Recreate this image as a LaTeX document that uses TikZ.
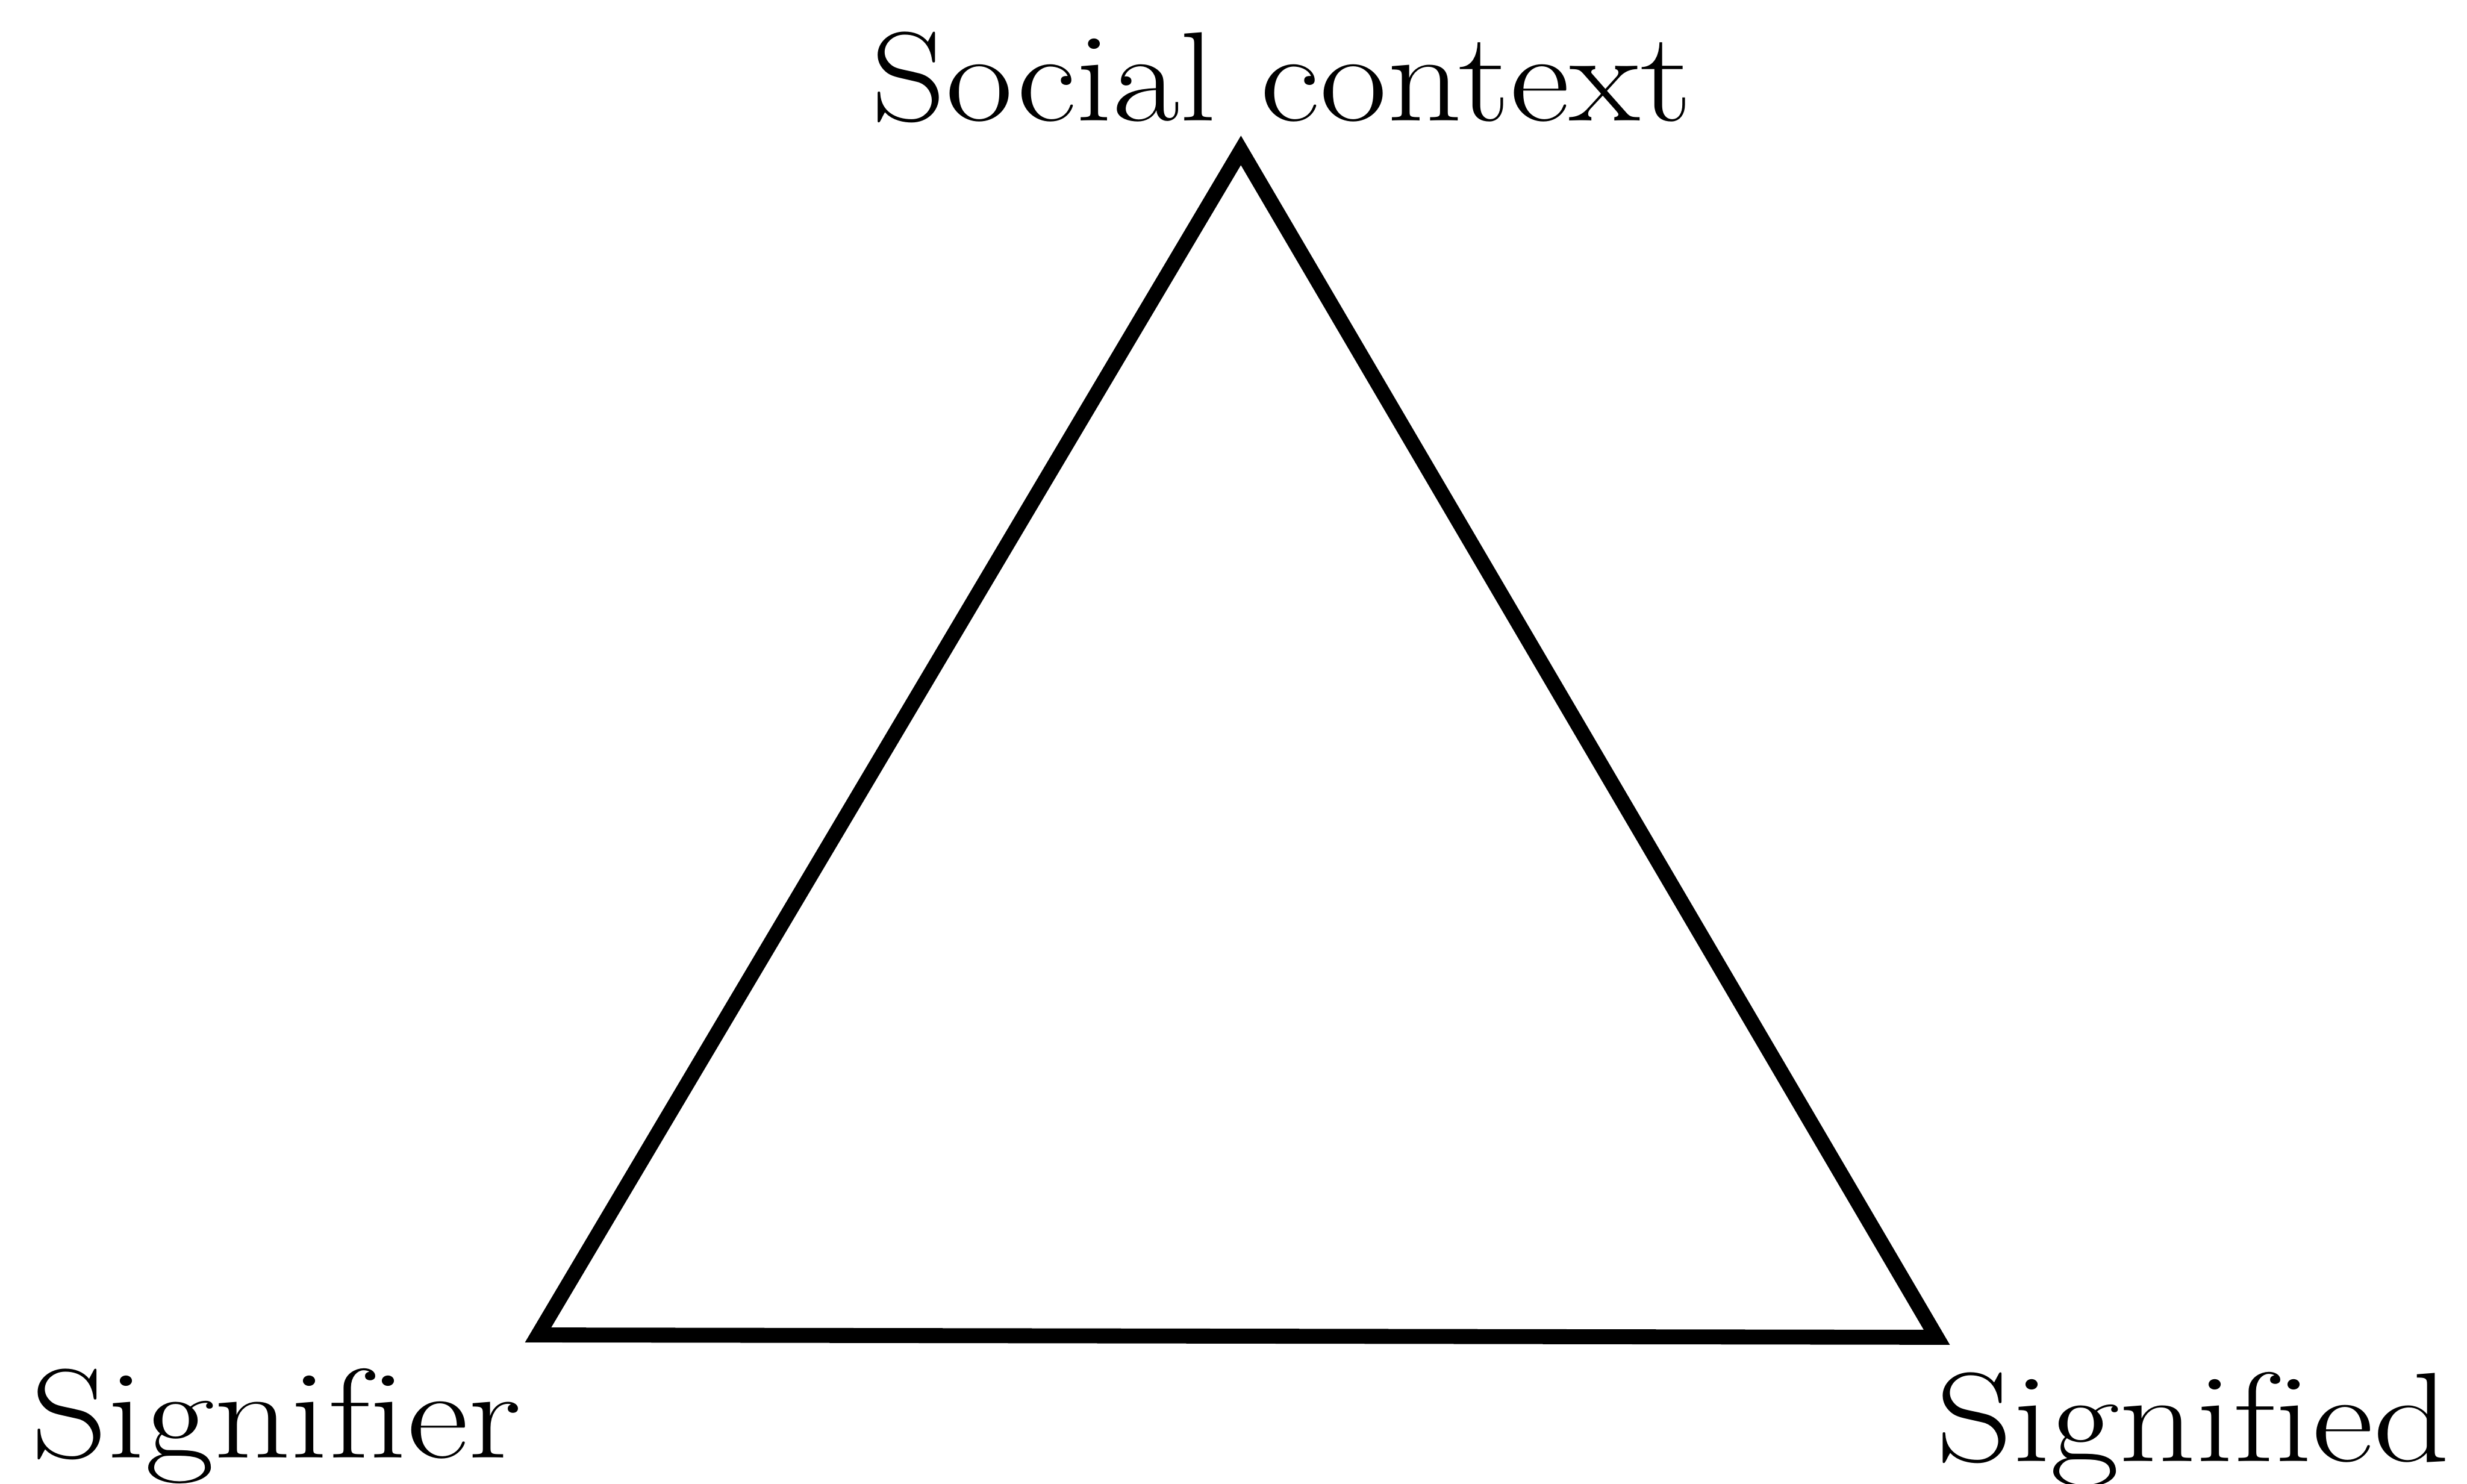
\documentclass[tikz,border=0pt]{standalone}
\usepackage{graphicx}
\usepackage{tikz}
\usetikzlibrary{positioning}

\begin{document}
\begin{tikzpicture}[line join=miter, lbl/.style={inner sep=0pt, font=\fontsize{23}{27}\selectfont}]
  \useasboundingbox (0,0) rectangle (15.68,9.43);
  \coordinate (ctx) at (7.887,8.474);
  \coordinate (sgr) at (3.42,0.945);
  \coordinate (sgd) at (12.31,0.93);
  \node[lbl, anchor=base] (ctxlbl) at (8.145,8.663) {\scalebox{1.15}[1]{Social context}};
  \node[lbl, anchor=base west] (sgrlbl) at (0.19,0.164) {\scalebox{1.18}[1]{Signif\kern0pt i\kern0pt er}};
  \node[lbl, anchor=base east] (sgdlbl) at (15.58,0.14) {\scalebox{1.18}[1]{Signif\kern0pt i\kern0pt ed}};
  \draw[line width=0.095cm] (ctx) -- (sgd) -- (sgr) -- cycle;
\end{tikzpicture}
\end{document}
